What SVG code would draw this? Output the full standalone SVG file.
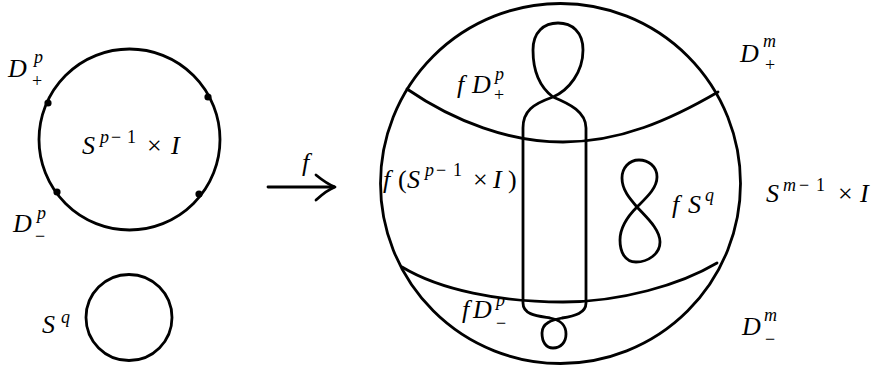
<svg xmlns="http://www.w3.org/2000/svg" width="877" height="370" viewBox="0 0 877 370">
<style>
.ln{fill:none;stroke:#000;stroke-width:2.8;stroke-linecap:round;stroke-linejoin:round}
.dot{fill:#000}
text{font-family:"Liberation Serif","Times New Roman",serif;fill:#000}
.m{font-style:italic;font-size:26px}
.mu{font-style:normal;font-size:26px}
.s{font-style:italic;font-size:18px}
.su{font-style:normal;font-size:18px}
</style>
<rect width="877" height="370" fill="#fff"/>
<g id="source-sphere">
<circle class="ln" cx="129.5" cy="139.5" r="90.5"/>
<circle class="dot" cx="48" cy="103" r="3.6"/>
<circle class="dot" cx="208" cy="97" r="3.6"/>
<circle class="dot" cx="57" cy="192" r="3.6"/>
<circle class="dot" cx="199" cy="194" r="3.6"/>
<text><tspan class="m" x="8" y="77">D</tspan><tspan class="s" x="34" y="63">p</tspan><tspan class="su" x="32" y="87">+</tspan></text>
<text><tspan class="m" x="13" y="232">D</tspan><tspan class="s" x="37" y="219">p</tspan><tspan class="su" x="35" y="242">−</tspan></text>
<text><tspan class="m" x="82" y="154">S</tspan><tspan class="s" x="100" y="143">p</tspan><tspan class="su" x="111" y="143">−</tspan><tspan class="su" x="127" y="143">1</tspan><tspan class="mu" x="147" y="154">×</tspan><tspan class="m" x="171" y="154">I</tspan></text>
</g>
<g id="source-sq">
<circle class="ln" cx="129" cy="317.5" r="43"/>
<text><tspan class="m" x="42" y="333">S</tspan><tspan class="s" x="61" y="323">q</tspan></text>
</g>
<g id="connectors">
<path class="ln" d="M268,187 L334,187"/>
<path class="ln" d="M316,175 Q327,184 335,187 Q327,190 316,200"/>
<text class="m" x="302" y="171">f</text>
</g>
<g id="target-sphere">
<circle class="ln" cx="560.5" cy="183.5" r="180"/>
<path class="ln" d="M407,89 C455,122 510,142 563,142 C620,142 670,120 718,92"/>
<path class="ln" d="M402,267 C440,290 500,302 563,302 C620,302 680,285 717,263"/>
<text><tspan class="m" x="740" y="62">D</tspan><tspan class="s" x="763" y="47">m</tspan><tspan class="su" x="765" y="71">+</tspan></text>
<text><tspan class="m" x="766" y="202">S</tspan><tspan class="s" x="783" y="191">m</tspan><tspan class="su" x="799" y="191">−</tspan><tspan class="su" x="816" y="191">1</tspan><tspan class="mu" x="838" y="202">×</tspan><tspan class="m" x="860" y="202">I</tspan></text>
<text><tspan class="m" x="742" y="335">D</tspan><tspan class="s" x="764" y="321">m</tspan><tspan class="su" x="765" y="345">−</tspan></text>
</g>
<g id="tube">
<path class="ln" d="M523,128 C523,111 533,104 553,97 C569,90 583,72 583,50 C583,32 572,23 558,23 C544,23 533,32 533,50 C533,72 541,88 553,97 C570,104 586,112 586,128 L586,303 C586,313 575,316 562,318 C552,320 542,323 542,333 C542,342 546,348 553,348 C561,348 566,342 566,334 C566,324 560,320 550,318 C538,316 523,315 523,303 Z"/>
<text><tspan class="m" x="457" y="93">f</tspan><tspan class="m" x="472" y="93">D</tspan><tspan class="s" x="495" y="80">p</tspan><tspan class="su" x="494" y="101">+</tspan></text>
<text><tspan class="m" x="383" y="188">f</tspan><tspan class="mu" x="398" y="188">(</tspan><tspan class="m" x="407" y="188">S</tspan><tspan class="s" x="425" y="176">p</tspan><tspan class="su" x="436" y="176">−</tspan><tspan class="su" x="453" y="176">1</tspan><tspan class="mu" x="473" y="188">×</tspan><tspan class="m" x="493" y="188">I</tspan><tspan class="mu" x="508" y="188">)</tspan></text>
<text><tspan class="m" x="462" y="318">f</tspan><tspan class="m" x="473" y="318">D</tspan><tspan class="s" x="496" y="306">p</tspan><tspan class="su" x="496" y="329">−</tspan></text>
</g>
<g id="figure-eight">
<path class="ln" d="M637,207 C647,197 657,188 657,177 C657,166 648,160 639,160 C629,160 622,168 622,178 C622,190 630,199 637,207 C646,217 660,229 660,242 C660,254 648,262 636,262 C625,262 620,252 620,240 C620,228 628,216 637,207 Z"/>
<text><tspan class="m" x="672" y="213">f</tspan><tspan class="m" x="688" y="213">S</tspan><tspan class="s" x="705" y="201">q</tspan></text>
</g>
</svg>
